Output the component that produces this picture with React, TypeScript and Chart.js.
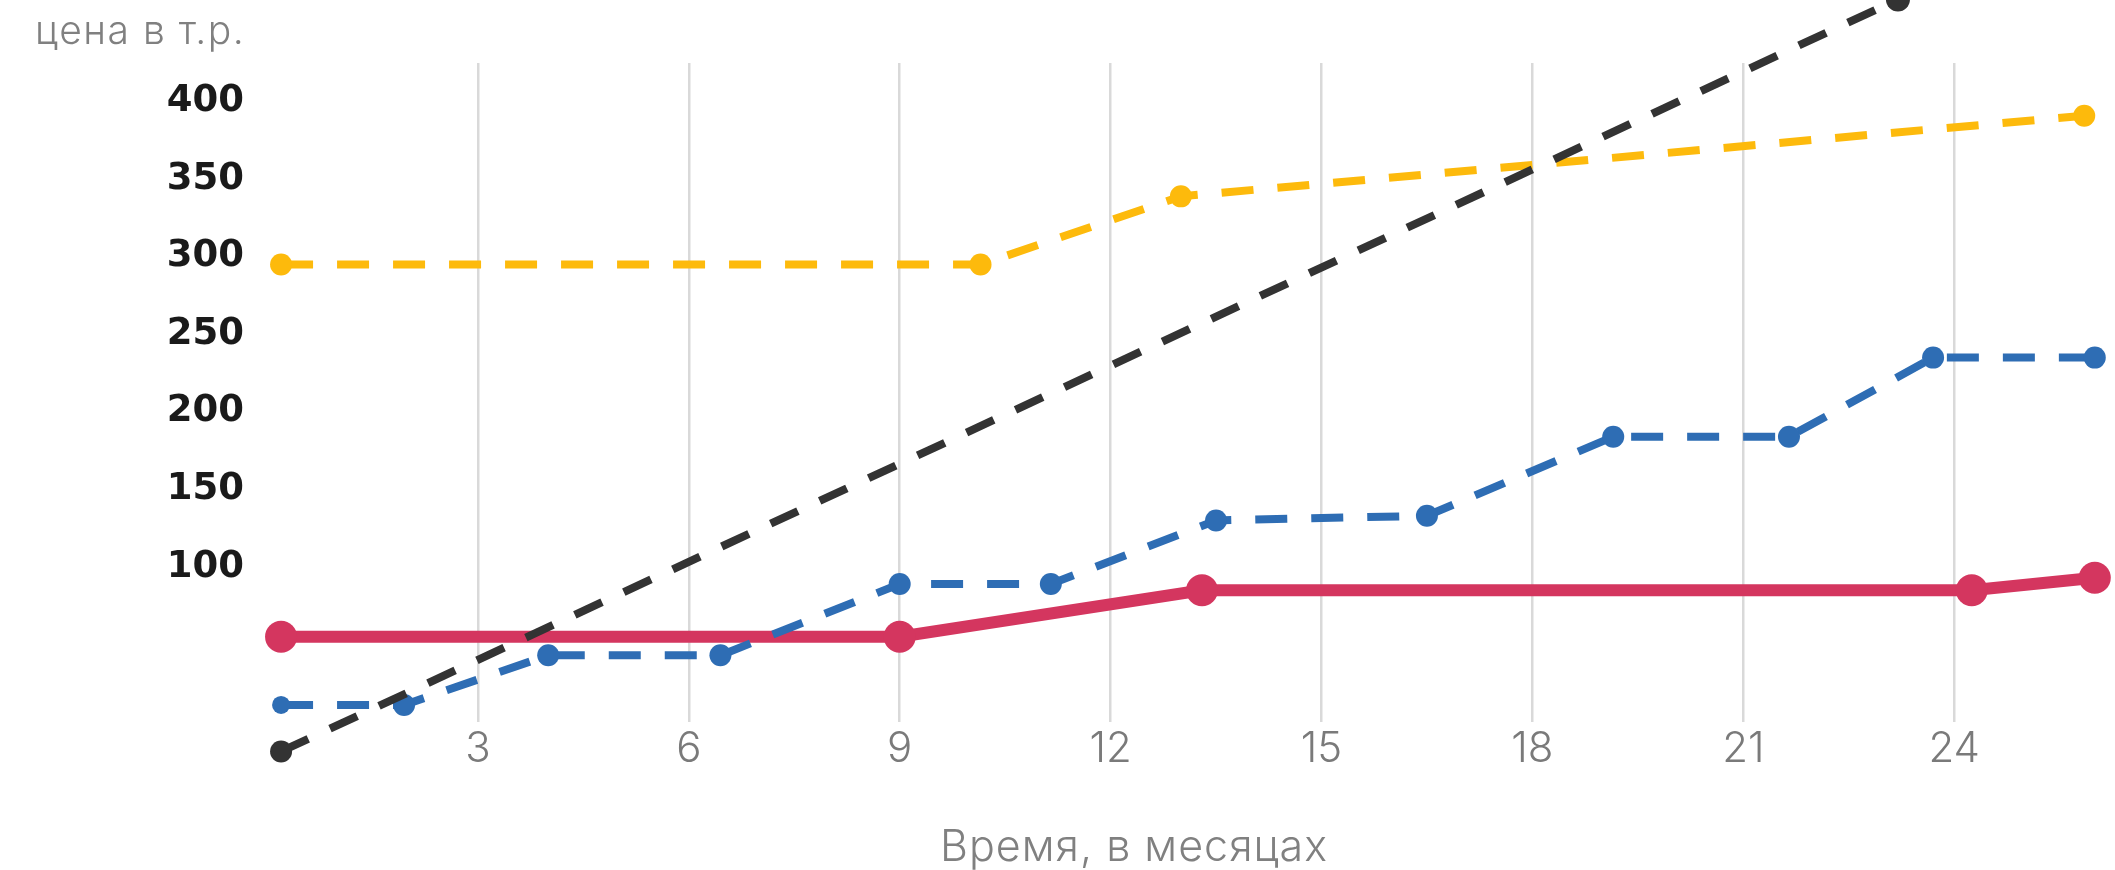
import React, { useEffect, useRef } from "react";
import { Chart, registerables } from "chart.js";

Chart.register(...registerables);

const yTitle = "цена в т.р.";
const xTitle = "Время, в месяцах";

const xTicks = [3, 6, 9, 12, 15, 18, 21, 24];
const yTicks = [100, 150, 200, 250, 300, 350, 400];

const redX = [0.2, 9.0, 13.3, 24.25, 26.0];
const redY = [55, 55, 85, 85, 93];

const blueX = [0.2, 1.95, 4.0, 6.45, 9.0, 11.15, 13.5, 16.5, 19.15, 21.65, 23.7, 26.0];
const blueY = [11, 11, 43, 43, 89, 89, 130, 133, 184, 184, 235, 235];

const blackX = [0.2, 23.2];
const blackY = [-19, 466];

const yellowX = [0.2, 10.15, 13.0, 25.85];
const yellowY = [295, 295, 339, 391];

const pts = (xs: number[], ys: number[]) => xs.map((x, i) => ({ x, y: ys[i] }));

const textPlugin = {
  id: "extraTexts",
  afterDatasetsDraw(chart: any) {
    // draw points that fall outside the chart area (Chart.js skips them)
    const { ctx } = chart;
    chart.data.datasets.forEach((_: any, i: number) => {
      const meta = chart.getDatasetMeta(i);
      const area = chart.chartArea;
      meta.data.forEach((el: any) => {
        if (el.y < area.top - 1 || el.y > area.bottom + 1) el.draw(ctx);
      });
    });
  },
  afterDraw(chart: any) {
    const { ctx } = chart;
    ctx.save();
    ctx.fillStyle = "#808080";
    ctx.textBaseline = "alphabetic";
    ctx.textAlign = "left";
    ctx.font = "300 39px Inter";
    (ctx as any).letterSpacing = "1.5px";
    ctx.fillText(yTitle, 35, 44);
    ctx.textAlign = "center";
    ctx.font = "300 43px Inter";
    (ctx as any).letterSpacing = "1px";
    ctx.fillText(xTitle, 1134, 861);
    ctx.restore();
  },
};

export default function App() {
  const ref = useRef<HTMLCanvasElement | null>(null);
  useEffect(() => {
    if (!ref.current) return;
    const chart = new Chart(ref.current, {
      type: "line",
      data: {
        datasets: [
          {
            label: "black",
            data: pts(blackX, blackY),
            borderColor: "#333333",
            backgroundColor: "#333333",
            borderWidth: 8,
            borderDash: [30, 24],
            pointRadius: [11, 12],
            pointBorderWidth: 0,
            clip: false as any,
            order: 0,
          },
          {
            label: "blue",
            data: pts(blueX, blueY),
            borderColor: "#2E6DB4",
            backgroundColor: "#2E6DB4",
            borderWidth: 8,
            borderDash: [32, 24],
            pointRadius: [9, 11, 11, 11, 11, 11, 11, 11, 11, 11, 11, 11],
            pointBorderWidth: 0,
            clip: false as any,
            order: 1,
          },
          {
            label: "red",
            data: pts(redX, redY),
            borderColor: "#D4365F",
            backgroundColor: "#D4365F",
            borderWidth: 12,
            pointRadius: 16,
            pointBorderWidth: 0,
            clip: false as any,
            order: 2,
          },
          {
            label: "yellow",
            data: pts(yellowX, yellowY),
            borderColor: "#FDBA0C",
            backgroundColor: "#FDBA0C",
            borderWidth: 8,
            borderDash: [32, 24],
            pointRadius: 11,
            pointBorderWidth: 0,
            clip: false as any,
            order: 3,
          },
        ],
      },
      options: {
        animation: false,
        responsive: true,
        maintainAspectRatio: false,
        layout: { padding: { top: 63, left: 0, right: 0, bottom: 0 } },
        plugins: { legend: { display: false }, tooltip: { enabled: false }, title: { display: false } },
        elements: { line: { tension: 0 } },
        scales: {
          x: {
            type: "linear",
            min: 0,
            max: 26.06,
            grid: { color: "#d9d9d9", lineWidth: 2.5, drawTicks: false },
            border: { display: false },
            ticks: {
              autoSkip: false,
              maxRotation: 0,
              padding: 2,
              color: "#7a7a7a",
              font: { family: "Inter", weight: 300 as any, size: 42 },
            },
            afterBuildTicks: (axis: any) => {
              axis.ticks = xTicks.map((v) => ({ value: v }));
            },
            afterFit: (scale: any) => {
              scale.height = 148;
            },
          },
          y: {
            type: "linear",
            min: 0,
            max: 425,
            grid: { display: false, drawTicks: false },
            border: { display: false },
            ticks: {
              padding: 23,
              color: "#1a1a1a",
              font: { family: "DejaVu Sans", weight: "bold", size: 37 },
            },
            afterBuildTicks: (axis: any) => {
              axis.ticks = yTicks.map((v) => ({ value: v }));
            },
            afterFit: (scale: any) => {
              scale.width = 267;
            },
          },
        },
      },
      plugins: [textPlugin],
    });
    return () => chart.destroy();
  }, []);
  return (
    <div style={{ position: "fixed", left: 0, top: 0, width: "2115px", height: "870px", background: "#fff" }}>
      <canvas ref={ref} />
    </div>
  );
}
